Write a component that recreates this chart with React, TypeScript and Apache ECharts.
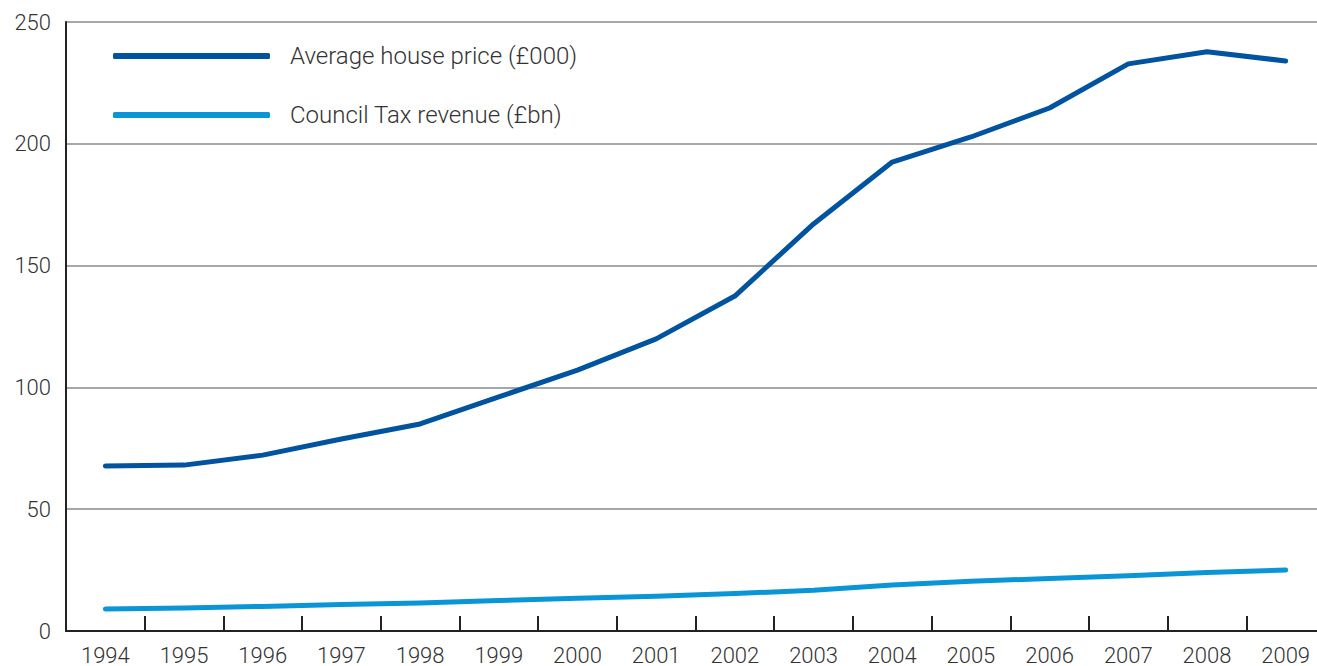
import React, { useEffect, useRef } from "react";
import * as echarts from "echarts";

const years = ["1994","1995","1996","1997","1998","1999","2000","2001","2002","2003","2004","2005","2006","2007","2008","2009"];
const housePrice = [67.7, 68.1, 72.2, 78.8, 85.0, 96.1, 107.1, 119.9, 137.5, 167.1, 192.5, 202.8, 214.7, 232.8, 237.8, 234.0];
const councilTax = [9.0, 9.4, 10.1, 10.9, 11.5, 12.5, 13.4, 14.3, 15.4, 16.7, 18.9, 20.4, 21.6, 22.7, 24.0, 25.0];
const seriesNames = ["Average house price (£000)", "Council Tax revenue (£bn)"];

const FONT = "Roboto";

export default function App() {
  const ref = useRef<HTMLDivElement>(null);
  useEffect(() => {
    document.body.style.margin = "0";
    const chart = echarts.init(ref.current!, null, { renderer: "svg" });
    chart.setOption({
      animation: false,
      backgroundColor: "#ffffff",
      grid: {
        left: 66,
        top: 22,
        bottom: 35,
        width: 1259,
        containLabel: false,
        outerBoundsMode: "none",
      },
      legend: {
        orient: "vertical",
        left: 108,
        top: 37,
        itemWidth: 157,
        itemHeight: 6,
        itemGap: 31,
        icon: "roundRect",
        data: seriesNames,
        textStyle: {
          fontFamily: FONT,
          fontWeight: 300,
          fontSize: 24,
          lineHeight: 28,
          color: "#333333",
          padding: [0, 0, 0, 15],
        },
      },
      xAxis: {
        type: "category",
        data: years,
        boundaryGap: true,
        axisLine: { show: true, lineStyle: { color: "#222222", width: 2 } },
        axisTick: { show: true, inside: true, length: 15, lineStyle: { color: "#222222", width: 2 } },
        axisLabel: {
          fontFamily: FONT,
          fontWeight: 300,
          fontSize: 22,
          color: "#333333",
          margin: 13,
        },
        splitLine: { show: false },
      },
      yAxis: {
        type: "value",
        min: 0,
        max: 250,
        interval: 50,
        axisLine: { show: true, lineStyle: { color: "#222222", width: 2 } },
        axisTick: { show: false },
        axisLabel: {
          fontFamily: FONT,
          fontWeight: 300,
          fontSize: 22,
          color: "#333333",
          margin: 15,
        },
        splitLine: { show: true, lineStyle: { color: "#8a8a8a", width: 1.5 } },
      },
      series: [
        {
          name: seriesNames[0],
          type: "line",
          data: housePrice,
          showSymbol: false,
          symbol: "none",
          lineStyle: { color: "#00539F", width: 5, cap: "round", join: "round" },
          itemStyle: { color: "#00539F" },
        },
        {
          name: seriesNames[1],
          type: "line",
          data: councilTax,
          showSymbol: false,
          symbol: "none",
          lineStyle: { color: "#0A96D6", width: 5, cap: "round", join: "round" },
          itemStyle: { color: "#0A96D6" },
        },
      ],
    });
    return () => chart.dispose();
  }, []);
  return <div ref={ref} style={{ width: 1317, height: 666 }} />;
}
